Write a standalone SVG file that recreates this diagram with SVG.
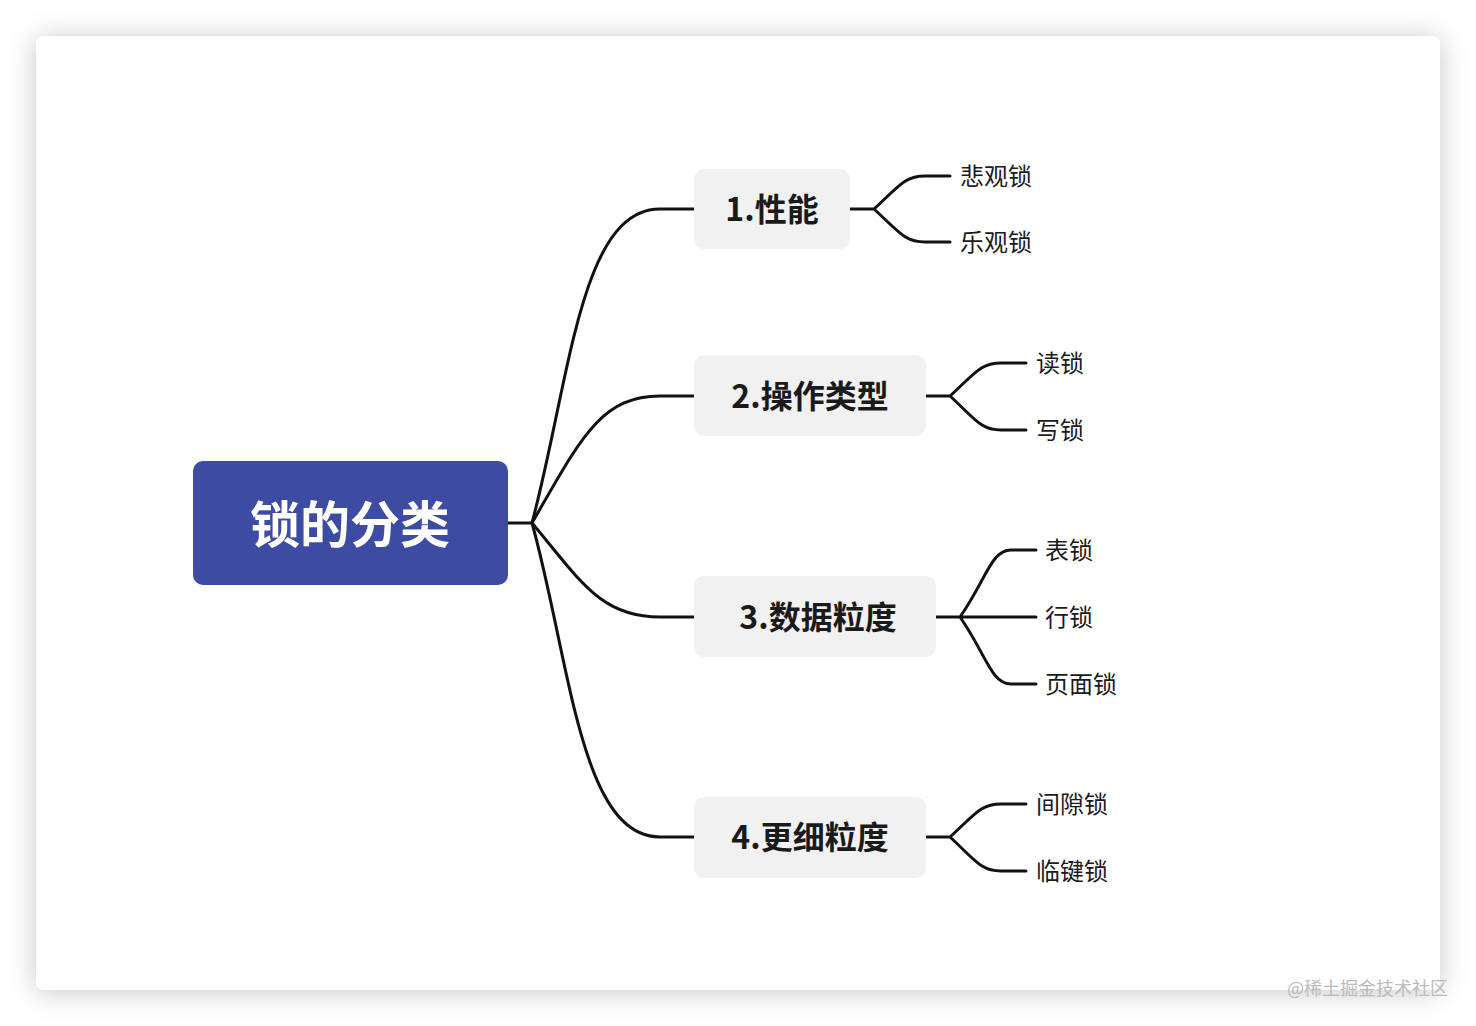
<svg xmlns="http://www.w3.org/2000/svg" width="1476" height="1026" viewBox="0 0 1476 1026">
<defs>
<filter id="sh" x="-10%" y="-10%" width="120%" height="120%"><feDropShadow dx="0" dy="2" stdDeviation="14" flood-color="#000" flood-opacity="0.22"/></filter>
<style>
.c{fill:none;stroke:#111;stroke-width:3;stroke-linecap:round}
.n{fill:#f1f1f1}
.t{font-family:"Noto Sans CJK SC",sans-serif;font-weight:bold;font-size:32px;fill:#1a1a1a;text-anchor:middle;dominant-baseline:central}
.l{font-family:"Noto Sans CJK SC",sans-serif;font-size:24px;fill:#1a1a1a;dominant-baseline:central}
</style>
</defs>
<rect width="1476" height="1026" fill="#fff"/>
<rect x="36" y="36" width="1404" height="954" rx="8" fill="#fff" filter="url(#sh)"/>
<g id="connectors">
<path class="c" d="M508,523 H532"/>
<path class="c" d="M532,523 C570,380 580,209 660,209 H694"/>
<path class="c" d="M532,523 C580,440 600,396 660,396 H694"/>
<path class="c" d="M532,523 C580,580 600,617 660,617 H694"/>
<path class="c" d="M532,523 C570,660 580,837 660,837 H694"/>
<path class="c" d="M850,209 H874 C900,185 905,176 925,176 H950 M874,209 C900,233 905,242 925,242 H950"/>
<path class="c" d="M926,396 H950 C976,372 981,363 1001,363 H1026 M950,396 C976,420 981,430 1001,430 H1026"/>
<path class="c" d="M936,617 H960 C986,580 991,550 1011,550 H1036 M960,617 H1036 M960,617 C986,654 991,684 1011,684 H1036"/>
<path class="c" d="M926,837 H950 C976,813 981,804 1001,804 H1026 M950,837 C976,861 981,871 1001,871 H1026"/>
</g>
<g id="root"><rect x="193" y="461" width="315" height="124" rx="10" fill="#3d4ba3"/><text x="350" y="521" font-family="Noto Sans CJK SC,sans-serif" font-weight="bold" font-size="50" fill="#fff" text-anchor="middle" dominant-baseline="central">锁的分类</text></g>
<g id="n1"><rect class="n" x="694" y="169" width="156" height="80" rx="10"/><text class="t" x="772" y="207">1.性能</text></g>
<g id="n2"><rect class="n" x="694" y="355" width="232" height="81" rx="10"/><text class="t" x="810" y="394">2.操作类型</text></g>
<g id="n3"><rect class="n" x="694" y="576" width="242" height="81" rx="10"/><text class="t" x="818" y="615">3.数据粒度</text></g>
<g id="n4"><rect class="n" x="694" y="797" width="232" height="81" rx="10"/><text class="t" x="810" y="835">4.更细粒度</text></g>
<g id="leaves">
<text class="l" x="960" y="174">悲观锁</text><text class="l" x="960" y="240">乐观锁</text>
<text class="l" x="1036" y="361">读锁</text><text class="l" x="1036" y="428">写锁</text>
<text class="l" x="1045" y="548">表锁</text><text class="l" x="1045" y="615">行锁</text><text class="l" x="1045" y="682">页面锁</text>
<text class="l" x="1036" y="802">间隙锁</text><text class="l" x="1036" y="869">临键锁</text>
</g>
<text x="1448" y="987" font-family="Noto Sans CJK SC,sans-serif" font-size="18" fill="#bbb" text-anchor="end" dominant-baseline="central">@稀土掘金技术社区</text>
</svg>
